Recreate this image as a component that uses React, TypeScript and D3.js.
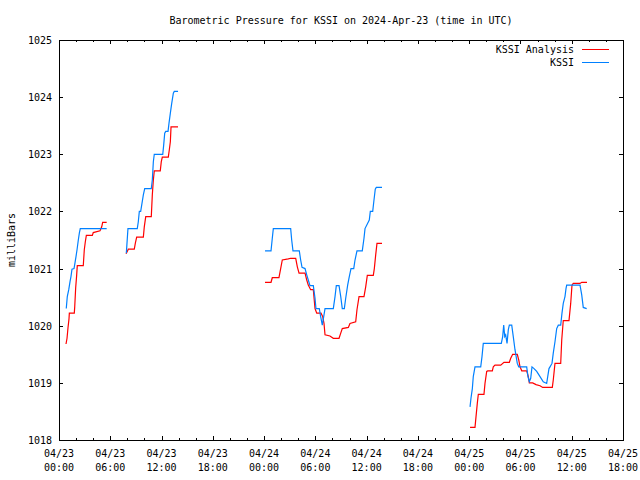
import React, { useEffect, useRef } from 'react';
import * as d3 from 'd3';

const chartTitle = "Barometric Pressure for KSSI on 2024-Apr-23 (time in UTC)";
const yAxisLabel = "milliBars";
const seriesNames = ["KSSI Analysis", "KSSI"];
const seriesColors = ["#ff0000", "#0080ff"];
const startMs = Date.UTC(2024, 3, 23, 0, 0);
const spanHours = 66;
const yTicks = [1018, 1019, 1020, 1021, 1022, 1023, 1024, 1025];

// hours since 04/23 00:00 UTC, null = gap in the record
const analysisHours = [
  0.82, 0.94, 1.05, 1.17, 1.21, 1.79, 1.84, 1.95, 2.07, 2.14, 2.84, 2.96, 3.08, 3.20, 3.90, 4.01, 4.80, 5.00, 5.11, 5.58,
  null,
  7.84, 7.99, 8.11, 8.81, 8.93, 9.09, 9.87, 9.98, 10.15, 10.80, 10.92, 11.04, 11.15, 11.85, 11.97, 12.09, 12.79, 12.91, 13.03, 13.11, 13.93,
  null,
  24.11, 24.81, 24.96, 25.74, 25.94, 26.13, 26.83, 27.11, 27.70, 27.89, 28.09, 28.79, 28.99, 29.17, 29.45, 29.76, 29.96, 30.16, 30.66, 30.86,
  31.01, 31.13, 31.71, 32.10, 32.77, 32.97, 33.15, 33.86, 34.05, 34.72, 34.87, 35.11, 35.69, 35.89, 36.08, 36.78, 36.90, 37.06, 37.21, 37.80,
  null,
  48.10, 48.68, 48.80, 48.95, 49.07, 49.73, 49.85, 50.05, 50.17, 50.71, 50.82, 51.02, 51.69, 52.07, 52.70, 52.86, 53.09, 53.63, 53.80, 53.95,
  54.15, 54.73, 54.92, 55.04, 55.43, 55.82, 56.29, 56.60, 57.73, 57.84, 58.04, 58.71, 58.83, 59.01, 59.68, 59.88, 60.03, 60.18, 60.97, 61.17, 61.79,
];
const analysisValues = [
  1019.68, 1019.78, 1019.96, 1020.12, 1020.22, 1020.22, 1020.33, 1020.66, 1020.89, 1021.05, 1021.05, 1021.33, 1021.47, 1021.58, 1021.58, 1021.63, 1021.66, 1021.73, 1021.81, 1021.81,
  null,
  1021.26, 1021.30, 1021.34, 1021.34, 1021.44, 1021.55, 1021.55, 1021.73, 1021.91, 1021.91, 1022.29, 1022.55, 1022.71, 1022.71, 1022.87, 1022.95, 1022.95, 1023.08, 1023.22, 1023.48, 1023.48,
  null,
  1020.76, 1020.76, 1020.84, 1020.84, 1021.00, 1021.15, 1021.17, 1021.18, 1021.18, 1021.03, 1020.92, 1020.92, 1020.80, 1020.71, 1020.63, 1020.63, 1020.30, 1020.22, 1020.22, 1020.16,
  1020.04, 1019.84, 1019.82, 1019.78, 1019.78, 1019.87, 1019.95, 1019.97, 1020.04, 1020.07, 1020.28, 1020.51, 1020.51, 1020.68, 1020.88, 1020.88, 1021.00, 1021.24, 1021.44, 1021.44,
  null,
  1018.22, 1018.22, 1018.41, 1018.64, 1018.80, 1018.80, 1018.99, 1019.20, 1019.21, 1019.21, 1019.28, 1019.31, 1019.31, 1019.36, 1019.36, 1019.43, 1019.50, 1019.50, 1019.40, 1019.28,
  1019.21, 1019.21, 1019.11, 1019.00, 1019.00, 1018.97, 1018.95, 1018.92, 1018.92, 1019.05, 1019.34, 1019.34, 1019.75, 1020.09, 1020.09, 1020.39, 1020.71, 1020.74, 1020.74, 1020.76, 1020.76,
];

const kssiHours = [
  0.85, 0.97, 1.14, 1.29, 1.40, 1.52, 1.76, 1.87, 1.99, 2.11, 2.26, 2.38, 2.49, 5.58,
  null,
  7.88, 8.07, 9.16, 9.28, 9.40, 9.56, 9.71, 9.87, 10.03, 10.80, 10.92, 11.04, 11.15, 12.14, 12.25, 12.37, 12.49, 12.76, 12.87, 13.03, 13.19, 13.38, 13.49, 13.93,
  null,
  24.11, 24.81, 24.96, 25.08, 27.11, 27.23, 27.38, 28.12, 28.28, 28.44, 28.79, 28.99, 29.17, 29.37, 29.76, 29.96, 30.07, 30.46, 30.62, 30.81, 31.01, 31.13, 32.10,
  32.30, 32.45, 32.77, 32.97, 33.15, 33.39, 33.55, 33.78, 33.97, 34.17, 34.49, 34.64, 34.87, 35.49, 35.69, 35.81, 36.31, 36.43, 36.71, 36.86, 37.01, 37.13, 37.80,
  null,
  48.10, 48.21, 48.37, 48.48, 48.68, 49.35, 49.50, 49.65, 51.76, 51.92, 52.04, 52.16, 52.27, 52.43, 52.58, 52.70, 52.98, 53.16, 53.36, 53.63, 53.80, 54.73, 54.88, 55.04, 55.20,
  55.35, 55.59, 55.90, 56.29, 56.67, 57.07, 57.19, 57.34, 57.46, 57.69, 57.84, 58.04, 58.24, 58.43, 58.71, 58.86, 59.01, 59.21, 59.33, 59.41, 60.97, 61.17, 61.35, 61.75,
];
const kssiValues = [
  1020.30, 1020.51, 1020.63, 1020.77, 1020.86, 1020.99, 1021.00, 1021.10, 1021.21, 1021.33, 1021.50, 1021.62, 1021.70, 1021.70,
  null,
  1021.27, 1021.70, 1021.70, 1021.82, 1022.00, 1022.00, 1022.14, 1022.29, 1022.40, 1022.40, 1022.55, 1022.87, 1023.00, 1023.00, 1023.16, 1023.37, 1023.40, 1023.40, 1023.54, 1023.72, 1023.89, 1024.07, 1024.10, 1024.10,
  null,
  1021.31, 1021.31, 1021.53, 1021.70, 1021.70, 1021.50, 1021.31, 1021.31, 1021.15, 1021.02, 1021.00, 1020.89, 1020.80, 1020.70, 1020.70, 1020.48, 1020.30, 1020.30, 1020.16, 1020.01, 1020.19, 1020.30, 1020.30,
  1020.51, 1020.70, 1020.70, 1020.51, 1020.30, 1020.30, 1020.48, 1020.71, 1020.86, 1021.00, 1021.00, 1021.15, 1021.31, 1021.31, 1021.53, 1021.70, 1021.85, 1022.00, 1022.00, 1022.20, 1022.39, 1022.42, 1022.42,
  null,
  1018.58, 1018.73, 1018.90, 1019.11, 1019.28, 1019.28, 1019.46, 1019.69, 1019.69, 1019.81, 1020.01, 1019.81, 1019.84, 1019.69, 1019.93, 1020.01, 1020.01, 1019.81, 1019.58, 1019.34, 1019.28, 1019.28, 1019.11, 1019.02, 1019.08,
  1019.28, 1019.25, 1019.20, 1019.11, 1019.02, 1018.99, 1019.11, 1019.25, 1019.28, 1019.34, 1019.52, 1019.72, 1019.95, 1020.01, 1020.01, 1020.22, 1020.39, 1020.51, 1020.65, 1020.71, 1020.71, 1020.54, 1020.32, 1020.30,
];

type Pt = { t: Date; v: number | null };

const toPoints = (hours: (number | null)[], values: (number | null)[]): Pt[] =>
  hours.map((h, i) => ({ t: new Date(startMs + (h ?? 0) * 3600e3), v: h == null ? null : values[i] }));

export default function App() {
  const svgRef = useRef<SVGSVGElement>(null);

  useEffect(() => {
    if (!svgRef.current) return;
    document.body.style.margin = "0";

    const width = 640, height = 480;
    const margin = { top: 40, right: 17, bottom: 40, left: 59 };
    const font = "'DejaVu Sans Mono', monospace";

    const svg = d3.select(svgRef.current);
    svg.selectAll("*").remove();
    svg.attr("width", width).attr("height", height)
      .style("background", "#fff")
      .style("font-family", font)
      .style("font-size", "10px");

    const x = d3.scaleUtc()
      .domain([new Date(startMs), new Date(startMs + spanHours * 3600e3)])
      .range([margin.left, width - margin.right]);
    const y = d3.scaleLinear().domain([1018, 1025]).range([height - margin.bottom, margin.top]);

    const x0 = margin.left, x1 = width - margin.right;
    const y0 = height - margin.bottom, y1 = margin.top;

    // ticks (inward, mirrored on top/right)
    const ticks = svg.append("g").attr("stroke", "#000").attr("shape-rendering", "crispEdges");
    const majorX = x.ticks(d3.utcHour.every(6)!);
    const minorX = x.ticks(d3.utcHour.every(2)!).filter(d => d.getUTCHours() % 6 !== 0);
    majorX.forEach(d => {
      const px = Math.round(x(d)) + 0.5;
      ticks.append("line").attr("x1", px).attr("x2", px).attr("y1", y0).attr("y2", y0 - 4);
      ticks.append("line").attr("x1", px).attr("x2", px).attr("y1", y1).attr("y2", y1 + 4);
    });
    minorX.forEach(d => {
      const px = Math.round(x(d)) + 0.5;
      ticks.append("line").attr("x1", px).attr("x2", px).attr("y1", y0).attr("y2", y0 - 2);
      ticks.append("line").attr("x1", px).attr("x2", px).attr("y1", y1).attr("y2", y1 + 2);
    });
    yTicks.forEach(v => {
      const py = Math.round(y(v)) + 0.5;
      ticks.append("line").attr("x1", x0).attr("x2", x0 + 4).attr("y1", py).attr("y2", py);
      ticks.append("line").attr("x1", x1).attr("x2", x1 - 4).attr("y1", py).attr("y2", py);
    });

    // frame
    svg.append("rect")
      .attr("x", x0 + 0.5).attr("y", y1 + 0.5)
      .attr("width", x1 - x0).attr("height", y0 - y1)
      .attr("fill", "none").attr("stroke", "#000").attr("shape-rendering", "crispEdges");

    // tick labels
    const fmtDay = d3.utcFormat("%m/%d");
    const fmtTime = d3.utcFormat("%H:%M");
    const xl = svg.append("g").attr("text-anchor", "middle").attr("fill", "#000");
    majorX.forEach(d => {
      xl.append("text").attr("x", x(d)).attr("y", 457).text(fmtDay(d));
      xl.append("text").attr("x", x(d)).attr("y", 471).text(fmtTime(d));
    });
    const yl = svg.append("g").attr("text-anchor", "end").attr("fill", "#000");
    yTicks.forEach(v => {
      yl.append("text").attr("x", 52).attr("y", y(v) + 4).text(String(v));
    });

    // title and axis label
    svg.append("text")
      .attr("x", (x0 + x1) / 2).attr("y", 24)
      .attr("text-anchor", "middle").text(chartTitle);
    svg.append("text")
      .attr("transform", `translate(15,${(y0 + y1) / 2}) rotate(-90)`)
      .attr("text-anchor", "middle").text(yAxisLabel);

    // series
    const line = d3.line<Pt>()
      .defined(d => d.v != null)
      .x(d => x(d.t))
      .y(d => y(d.v as number));
    const series = [toPoints(analysisHours, analysisValues), toPoints(kssiHours, kssiValues)];
    series.forEach((pts, i) => {
      svg.append("path")
        .datum(pts)
        .attr("d", line)
        .attr("fill", "none")
        .attr("stroke", seriesColors[i])
        .attr("stroke-width", 1.2);
    });

    // legend
    seriesNames.forEach((name, i) => {
      const ly = 49 + i * 13;
      svg.append("text").attr("x", 574).attr("y", ly + 4).attr("text-anchor", "end").text(name);
      svg.append("line")
        .attr("x1", 582).attr("x2", 609).attr("y1", ly + 0.5).attr("y2", ly + 0.5)
        .attr("stroke", seriesColors[i]).attr("stroke-width", 1)
        .attr("shape-rendering", "crispEdges");
    });
  }, []);

  return <svg ref={svgRef} style={{ display: "block" }} />;
}
